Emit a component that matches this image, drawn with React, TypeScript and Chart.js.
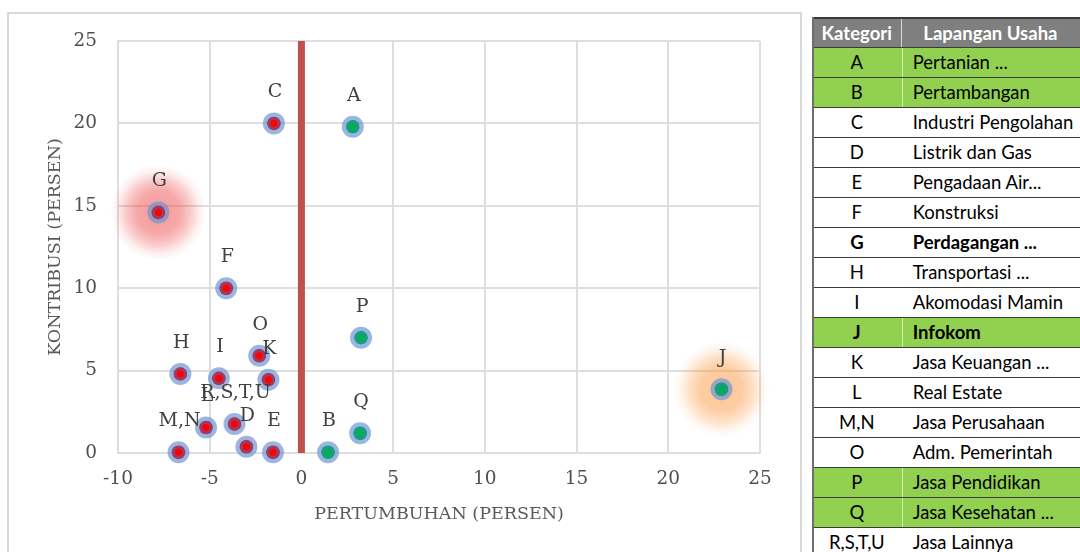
import React, { useEffect, useRef } from "react";
import { Chart, registerables } from "chart.js";

Chart.register(...registerables);

// ---- data ----
const pointLabels = ["A", "B", "C", "D", "E", "F", "G", "H", "I", "J", "K", "L", "M,N", "O", "P", "Q", "R,S,T,U"];
const growthValues = [2.8, 1.45, -1.5, -3.0, -1.55, -4.1, -7.8, -6.6, -4.5, 22.9, -1.8, -5.2, -6.7, -2.3, 3.25, 3.2, -3.65];
const contributionValues = [19.8, 0.05, 20.0, 0.38, 0.05, 10.0, 14.6, 4.8, 4.53, 3.87, 4.45, 1.55, 0.05, 5.9, 7.0, 1.2, 1.76];
const glowLabels = ["G", "J"];
const glowColors = ["rgba(236,70,70,", "rgba(250,150,60,"];
const xTicks = [-10, -5, 0, 5, 10, 15, 20, 25];
const yTicks = [0, 5, 10, 15, 20, 25];
const xTitle = "PERTUMBUHAN (PERSEN)";
const yTitle = "KONTRIBUSI (PERSEN)";

const tableHeader = ["Kategori", "Lapangan Usaha"];
const tableCodes = ["A", "B", "C", "D", "E", "F", "G", "H", "I", "J", "K", "L", "M,N", "O", "P", "Q", "R,S,T,U"];
const tableNames = [
  "Pertanian ...", "Pertambangan", "Industri Pengolahan", "Listrik dan Gas", "Pengadaan Air...",
  "Konstruksi", "Perdagangan ...", "Transportasi ...", "Akomodasi Mamin", "Infokom",
  "Jasa Keuangan ...", "Real Estate", "Jasa Perusahaan", "Adm. Pemerintah", "Jasa Pendidikan",
  "Jasa Kesehatan ...", "Jasa Lainnya",
];
const tableGreen = ["A", "B", "J", "P", "Q"];
const tableBold = ["G", "J"];

const SERIF = "'DejaVu Serif', serif";

function ScatterChart() {
  const ref = useRef<HTMLCanvasElement | null>(null);
  useEffect(() => {
    if (!ref.current) return;
    const pts = pointLabels.map((l, i) => ({ x: growthValues[i], y: contributionValues[i] }));
    const innerColors = growthValues.map((v) => (v > 0 ? "#1a9c84" : "#9a3d63"));
    const centerColors = growthValues.map((v) => (v > 0 ? "#00b050" : "#ff0000"));

    const glowPlugin = {
      id: "glow",
      beforeDatasetsDraw(chart: any) {
        const ctx = chart.ctx;
        const xs = chart.scales.x;
        const ys = chart.scales.y;
        glowLabels.forEach((lab, gi) => {
          const i = pointLabels.indexOf(lab);
          if (i < 0) return;
          const px = xs.getPixelForValue(growthValues[i]);
          const py = ys.getPixelForValue(contributionValues[i]);
          const c = glowColors[gi];
          const R = 48;
          const g = ctx.createRadialGradient(px, py, 0, px, py, R);
          g.addColorStop(0, c + "0.55)");
          g.addColorStop(0.45, c + "0.47)");
          g.addColorStop(0.68, c + "0.28)");
          g.addColorStop(0.85, c + "0.09)");
          g.addColorStop(1, c + "0)");
          ctx.save();
          ctx.fillStyle = g;
          ctx.beginPath();
          ctx.arc(px, py, R, 0, Math.PI * 2);
          ctx.fill();
          ctx.restore();
        });
      },
    };

    const labelPlugin = {
      id: "pointLabels",
      afterDatasetsDraw(chart: any) {
        const ctx = chart.ctx;
        const meta = chart.getDatasetMeta(0);
        ctx.save();
        ctx.font = `19px ${SERIF}`;
        ctx.fillStyle = "#404040";
        ctx.textAlign = "center";
        ctx.textBaseline = "middle";
        meta.data.forEach((el: any, i: number) => {
          ctx.fillText(pointLabels[i], el.x + 1, el.y - 31);
        });
        ctx.restore();
      },
    };

    const chart = new Chart(ref.current, {
      type: "scatter",
      data: {
        datasets: [
          {
            // outer translucent ring
            data: pts,
            pointRadius: 9,
            pointHoverRadius: 9,
            borderWidth: 4,
            backgroundColor: "rgba(0,0,0,0)",
            borderColor: "rgba(110,150,212,0.7)",
            clip: false,
            order: 3,
          } as any,
          {
            // inner fill
            data: pts,
            pointRadius: 7,
            pointHoverRadius: 7,
            borderWidth: 0,
            backgroundColor: innerColors,
            clip: false,
            order: 2,
          } as any,
          {
            // center dot
            data: pts,
            pointRadius: 3.5,
            pointHoverRadius: 3.5,
            borderWidth: 0,
            backgroundColor: centerColors,
            clip: false,
            order: 1,
          } as any,
          {
            data: [{ x: 0, y: 0 }, { x: 0, y: 25 }],
            showLine: true,
            borderColor: "#c0504d",
            borderWidth: 7,
            pointRadius: 0,
            order: 4,
          } as any,
        ],
      },
      options: {
        responsive: false,
        animation: false,
        devicePixelRatio: 1,
        layout: { padding: { left: 0, top: 41, right: 42, bottom: 0 } },
        plugins: { legend: { display: false }, tooltip: { enabled: false } },
        scales: {
          x: {
            type: "linear",
            min: -10,
            max: 25,
            afterBuildTicks: (s: any) => { s.ticks = xTicks.map((v) => ({ value: v })); },
            afterFit: (s: any) => { s.height = 99; },
            grid: { color: "#dedede", lineWidth: 2, drawTicks: false },
            border: { display: true, color: "#dedede", width: 2 },
            ticks: { color: "#505050", font: { family: SERIF, size: 18.5 }, padding: 15 },
            title: { display: true, text: xTitle, color: "#595959", font: { family: SERIF, size: 17.5 }, padding: { top: 0, bottom: 27 } },
          },
          y: {
            type: "linear",
            min: 0,
            max: 25,
            afterBuildTicks: (s: any) => { s.ticks = yTicks.map((v) => ({ value: v })); },
            afterFit: (s: any) => { s.width = 118; },
            grid: { color: "#dedede", lineWidth: 2, drawTicks: false },
            border: { display: true, color: "#dedede", width: 2 },
            ticks: { color: "#505050", font: { family: SERIF, size: 18.5 }, padding: 21 },
            title: { display: true, text: yTitle, color: "#595959", font: { family: SERIF, size: 17.5 }, padding: { top: 45, bottom: 0 } },
          },
        },
      } as any,
      plugins: [glowPlugin, labelPlugin],
    });
    return () => chart.destroy();
  }, []);
  return <canvas ref={ref} width={802} height={552} style={{ position: "absolute", left: 0, top: 0, width: 802, height: 552 }} />;
}

function KategoriTable() {
  const rowH = 30;
  const col1 = 91;
  const font = "Lato, 'Noto Sans', sans-serif";
  return (
    <div style={{ position: "absolute", left: 812, top: 17, width: 300, fontFamily: font, fontSize: 18.5 }}>
      <div style={{ display: "flex", height: rowH, background: "#7f7f7f", color: "#fff", fontWeight: 700, borderTop: "2px solid #3a3a3a", boxSizing: "border-box" }}>
        <div style={{ width: col1, textAlign: "center", lineHeight: `${rowH - 2}px`, borderRight: "1.5px solid #d6d6d6", boxSizing: "border-box" }}>{tableHeader[0]}</div>
        <div style={{ width: 190, paddingLeft: 21, lineHeight: `${rowH - 2}px` }}>{tableHeader[1]}</div>
      </div>
      {tableCodes.map((code, i) => {
        const green = tableGreen.includes(code);
        const bold = tableBold.includes(code);
        return (
          <div key={code} style={{ display: "flex", height: rowH, background: green ? "#92d050" : "#fff", color: "#000", fontWeight: bold ? 700 : 400, borderTop: "1.5px solid #3a3a3a", boxSizing: "border-box" }}>
            <div style={{ width: col1, textAlign: "center", lineHeight: `${rowH - 2}px`, borderRight: green ? "1.5px solid #d8ecc4" : "1.5px solid transparent", boxSizing: "border-box" }}>{code}</div>
            <div style={{ width: 200, paddingLeft: 10, lineHeight: `${rowH - 2}px`, whiteSpace: "nowrap" }}>{tableNames[i]}</div>
          </div>
        );
      })}
      <div style={{ position: "absolute", left: 0, top: 0, width: 2, height: 600, background: "#6e6e6e" }} />
    </div>
  );
}

export default function App() {
  return (
    <div style={{ position: "fixed", left: 0, top: 0, width: 1080, height: 552, background: "#fff", overflow: "hidden" }}>
      <div style={{ position: "absolute", left: 7, top: 12, width: 795, height: 600, borderTop: "2px solid #d9d9d9", borderLeft: "2px solid #d9d9d9", borderRight: "2px solid #d9d9d9", boxSizing: "border-box" }} />
      <ScatterChart />
      <KategoriTable />
    </div>
  );
}
